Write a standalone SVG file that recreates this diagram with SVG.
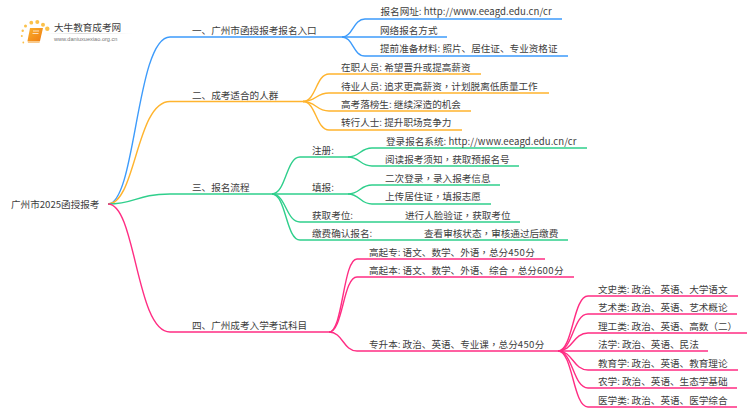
<svg xmlns="http://www.w3.org/2000/svg" width="750" height="410" viewBox="0 0 750 410">
<defs>
<linearGradient id="fade" x1="0" x2="1" y1="0" y2="0"><stop offset="0" stop-color="#ddd" stop-opacity="0"/><stop offset="0.4" stop-color="#ccc"/><stop offset="1" stop-color="#ddd" stop-opacity="0"/></linearGradient>
<linearGradient id="bookfill" x1="0" x2="1" y1="0" y2="1"><stop offset="0" stop-color="#fbb02c"/><stop offset="1" stop-color="#ee7d12"/></linearGradient>
</defs>
<style>
text{font-family:"Noto Sans CJK SC","Liberation Sans",sans-serif;font-size:9.6px;fill:#3d3d3d}
.t{font-family:"Noto Sans CJK TC","Liberation Sans",sans-serif}
.n{letter-spacing:.35px}
.u{letter-spacing:.07px}
.c{fill:none;stroke-width:1.4}
.b{stroke:#3d9bfb}.o{stroke:#ffb42e}.g{stroke:#2fcf8c}.p{stroke:#ff2d83}
</style>
<rect width="750" height="410" fill="#fff"/>
<g id="logo">
<g fill="#fbc14a"><circle cx="22.7" cy="30.7" r="1.2"/><circle cx="25.5" cy="26" r="1.5"/><circle cx="31.3" cy="22.7" r="1.9"/><circle cx="37.3" cy="22" r="2"/><circle cx="43" cy="24.7" r="2"/><circle cx="47.3" cy="28.7" r="2.2"/><circle cx="21.8" cy="36" r="1"/><circle cx="23.3" cy="42.500" r="0.9"/></g>
<path d="M30,28 H43 L40,41 H27.500 Z" fill="url(#bookfill)"/>
<path d="M27.500,41 H40 L39.500,43 H28 Z" fill="#f9c98a"/>
<path d="M33,31 H39 M32.500,33.500 H38.500" stroke="#fff" stroke-width="0.7" fill="none"/>
<rect x="45" y="33" width="88" height="0.8" fill="url(#fade)"/>
<text x="54" y="31">大牛教育成考网</text>
<text x="54" y="41" style="font-size:5.6px;font-family:'Liberation Sans',sans-serif;fill:#777">www.daniuxuexiao.org.cn</text>
</g>
<g id="connectors">
<path class="c b" d="M108,204 C136,204 136,37 170,37 H342"/>
<path class="c b" d="M342,37 C353,37 353,19 365,19 H562"/>
<path class="c b" d="M342,37 H447"/>
<path class="c b" d="M342,37 C353,37 353,56 365,56 H568"/>
<path class="c o" d="M108,204 C136,204 136,101.500 170,101.500 H303"/>
<path class="c o" d="M303,101.500 C316,101.500 316,74 329,74 H481"/>
<path class="c o" d="M303,101.500 C316,101.500 316,93 329,93 H549"/>
<path class="c o" d="M303,101.500 C316,101.500 316,111 329,111 H471"/>
<path class="c o" d="M303,101.500 C316,101.500 316,130 329,130 H462"/>
<path class="c g" d="M108,204 C136,204 136,194 170,194 H272"/>
<path class="c g" d="M272,194 C286,194 286,157 300,157 H348"/>
<path class="c g" d="M272,194 H348"/>
<path class="c g" d="M272,194 C286,194 286,222 300,222 H520"/>
<path class="c g" d="M272,194 C286,194 286,240 300,240 H568"/>
<path class="c g" d="M348,157 C360,157 360,148 372,148 H587"/>
<path class="c g" d="M348,157 C360,157 360,166 372,166 H519"/>
<path class="c g" d="M348,194 C360,194 360,185 372,185 H500"/>
<path class="c g" d="M348,194 C360,194 360,204 372,204 H491"/>
<path class="c p" d="M108,204 C136,204 136,332 170,332 H329"/>
<path class="c p" d="M329,332 C343,332 343,259 357,259 H545"/>
<path class="c p" d="M329,332 C343,332 343,277 357,277 H574"/>
<path class="c p" d="M329,332 C343,332 343,351 357,351 H558"/>
<path class="c p" d="M558,351 C573,351 573,296 588,296 H738"/>
<path class="c p" d="M558,351 C573,351 573,314 588,314 H737"/>
<path class="c p" d="M558,351 C573,351 573,333 588,333 H747"/>
<path class="c p" d="M558,351 H708"/>
<path class="c p" d="M558,351 C573,351 573,370 588,370 H738"/>
<path class="c p" d="M558,351 C573,351 573,388 588,388 H737"/>
<path class="c p" d="M558,351 C573,351 573,407 588,407 H737"/>
</g>
<g id="root"><text x="11" y="208">广州市2025函授报考</text></g>
<g id="branch-1">
<text x="192" y="34">一、广州市函授报考报名入口</text>
<text x="380.500" y="15">报名网址: <tspan class="u">http://www.eeagd.edu.cn/cr</tspan></text>
<text x="380" y="34">网络报名方式</text>
<text x="380" y="52">提前准备材料: 照片、居住证、专业资格证</text>
</g>
<g id="branch-2">
<text x="192" y="98.500">二、成考适合的人群</text>
<text x="341" y="71">在职人员: 希望晋升或提高薪资</text>
<text x="341" y="89.500">待业人员: 追求更高薪资<tspan class="t">，</tspan>计划脱离低质量工作</text>
<text x="341" y="108">高考落榜生: 继续深造的机会</text>
<text x="341" y="126">转行人士: 提升职场竞争力</text>
</g>
<g id="branch-3">
<text x="192" y="190.500">三、报名流程</text>
<text x="312" y="154">注册:</text>
<text x="386" y="144.500">登录报名系统: <tspan class="u">http://www.eeagd.edu.cn/cr</tspan></text>
<text x="385" y="163">阅读报考须知<tspan class="t">，</tspan>获取预报名号</text>
<text x="312" y="191">填报:</text>
<text x="385" y="181.500">二次登录<tspan class="t">，</tspan>录入报考信息</text>
<text x="385" y="200">上传居住证<tspan class="t">，</tspan>填报志愿</text>
<text x="312" y="218.500">获取考位:</text>
<text x="405" y="218.500">进行人脸验证<tspan class="t">，</tspan>获取考位</text>
<text x="312" y="237">缴费确认报名:</text>
<text x="424" y="237">查看审核状态<tspan class="t">，</tspan>审核通过后缴费</text>
</g>
<g id="branch-4">
<text x="192" y="329">四、广州成考入学考试科目</text>
<text x="369" y="255.500">高起专: 语文、数学、外语<tspan class="t">，</tspan>总分<tspan class="n">450</tspan>分</text>
<text x="369" y="274">高起本: 语文、数学、外语、综合<tspan class="t">，</tspan>总分<tspan class="n">600</tspan>分</text>
<text x="369" y="347.500">专升本: 政治、英语、专业课<tspan class="t">，</tspan>总分<tspan class="n">450</tspan>分</text>
<text x="598" y="292.500">文史类: 政治、英语、大学语文</text>
<text x="598" y="311">艺术类: 政治、英语、艺术概论</text>
<text x="598" y="329.500">理工类: 政治、英语、高数<tspan class="t">（</tspan>二<tspan class="t">）</tspan></text>
<text x="598" y="348">法学: 政治、英语、民法</text>
<text x="598" y="366.500">教育学: 政治、英语、教育理论</text>
<text x="598" y="385">农学: 政治、英语、生态学基础</text>
<text x="598" y="403.500">医学类: 政治、英语、医学综合</text>
</g>
</svg>
